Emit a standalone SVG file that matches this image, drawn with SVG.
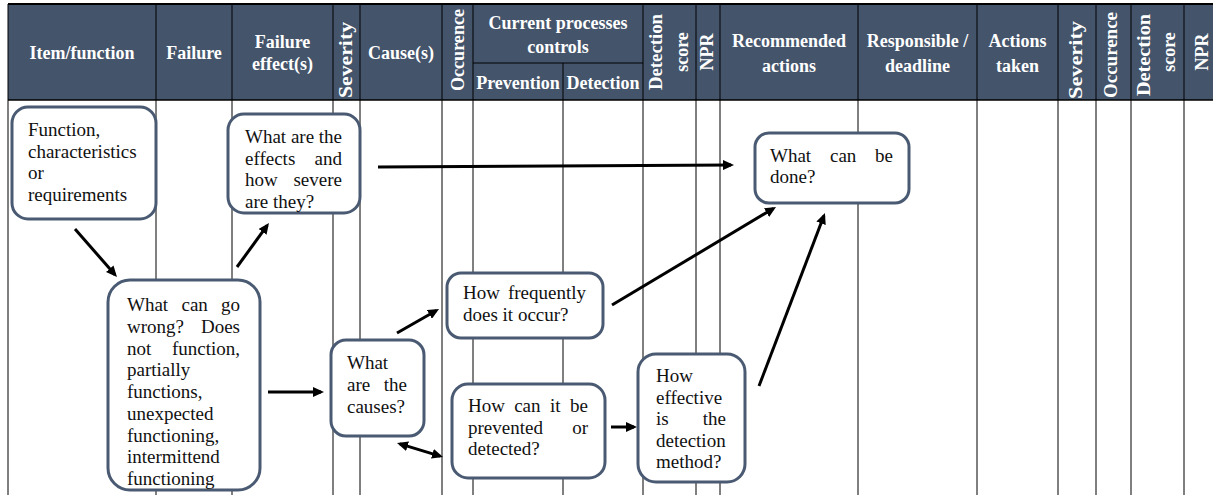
<svg xmlns="http://www.w3.org/2000/svg" width="1213" height="495" viewBox="0 0 1213 495">
  <style>
    .hd{fill:#44546A}
    .grid line{stroke:#000;stroke-width:1}
    .h{font-family:"Liberation Serif","Times New Roman",serif;font-weight:bold;font-size:18px;fill:#fff;text-anchor:middle}
    .t{font-family:"Liberation Serif","Times New Roman",serif;font-size:19px;fill:#111}
    .r{text-anchor:end}
    .box{fill:#fff;stroke:#4A5A72;stroke-width:3}
    .conn line{stroke:#000;stroke-width:3;fill:none}
    .one{marker-end:url(#ah)}
    .two{marker-start:url(#ah);marker-end:url(#ah)}
  </style>
  <defs>
    <marker id="ah" viewBox="0 0 11 10" markerWidth="11" markerHeight="10" refX="8" refY="5" markerUnits="userSpaceOnUse" orient="auto-start-reverse">
      <path d="M0,0 L11,5 L0,10 z" fill="#000"/>
    </marker>
  </defs>

  <rect width="1213" height="495" fill="#fff"/>

  <!-- header band -->
  <rect class="hd" x="8" y="4" width="1205" height="96"/>

  <!-- table grid -->
  <g class="grid">
    <line x1="8" y1="4" x2="1213" y2="4" style="stroke-width:2"/>
    <line x1="8" y1="100" x2="1213" y2="100" style="stroke-width:1.5"/>
    <line x1="473" y1="63" x2="643" y2="63"/>
    <line x1="8" y1="4" x2="8" y2="495"/>
    <line x1="156" y1="4" x2="156" y2="495"/>
    <line x1="232" y1="4" x2="232" y2="495"/>
    <line x1="333" y1="4" x2="333" y2="495"/>
    <line x1="360" y1="4" x2="360" y2="495"/>
    <line x1="442" y1="4" x2="442" y2="495"/>
    <line x1="473" y1="4" x2="473" y2="495"/>
    <line x1="563" y1="63" x2="563" y2="495"/>
    <line x1="643" y1="4" x2="643" y2="495"/>
    <line x1="696" y1="4" x2="696" y2="495"/>
    <line x1="720" y1="4" x2="720" y2="495"/>
    <line x1="858" y1="4" x2="858" y2="495"/>
    <line x1="977" y1="4" x2="977" y2="495"/>
    <line x1="1058" y1="4" x2="1058" y2="495"/>
    <line x1="1096" y1="4" x2="1096" y2="495"/>
    <line x1="1131" y1="4" x2="1131" y2="495"/>
    <line x1="1184" y1="4" x2="1184" y2="495"/>
  </g>

  <!-- header labels -->
  <g id="header">
    <text class="h" x="82" y="59">Item/function</text>
    <text class="h" x="194" y="59">Failure</text>
    <text class="h" x="282.5" y="48">Failure</text>
    <text class="h" x="282.5" y="70">effect(s)</text>
    <text class="h" transform="translate(352,60) rotate(-90)" textLength="76" lengthAdjust="spacingAndGlyphs">Severity</text>
    <text class="h" x="401" y="59">Cause(s)</text>
    <text class="h" transform="translate(464,50) rotate(-90)" textLength="82" lengthAdjust="spacingAndGlyphs">Occurence</text>
    <text class="h" x="558" y="29">Current processes</text>
    <text class="h" x="558" y="53">controls</text>
    <text class="h" x="518" y="89">Prevention</text>
    <text class="h" x="603" y="89">Detection</text>
    <text class="h" transform="translate(662,52) rotate(-90)" textLength="76" lengthAdjust="spacingAndGlyphs">Detection</text>
    <text class="h" transform="translate(688,52) rotate(-90)">score</text>
    <text class="h" transform="translate(713,52) rotate(-90)">NPR</text>
    <text class="h" x="789" y="47">Recommended</text>
    <text class="h" x="789" y="72">actions</text>
    <text class="h" x="917.5" y="47">Responsible /</text>
    <text class="h" x="917.5" y="72">deadline</text>
    <text class="h" x="1017.5" y="47">Actions</text>
    <text class="h" x="1017.5" y="72">taken</text>
    <text class="h" transform="translate(1082,60) rotate(-90)" textLength="78" lengthAdjust="spacingAndGlyphs">Severity</text>
    <text class="h" transform="translate(1117,55) rotate(-90)" textLength="86" lengthAdjust="spacingAndGlyphs">Occurence</text>
    <text class="h" transform="translate(1150,55) rotate(-90)" textLength="82" lengthAdjust="spacingAndGlyphs">Detection</text>
    <text class="h" transform="translate(1175,52) rotate(-90)">score</text>
    <text class="h" transform="translate(1208,52) rotate(-90)">NPR</text>
  </g>

  <!-- connectors -->
  <g id="connectors" class="conn">
    <line class="one" x1="75" y1="229" x2="115" y2="274.7"/>
    <line class="one" x1="237" y1="267" x2="267.2" y2="225.4"/>
    <line class="one" x1="378" y1="167" x2="731" y2="165"/>
    <line class="one" x1="612" y1="305" x2="773.4" y2="208.5"/>
    <line class="one" x1="759" y1="386" x2="823.9" y2="215.8"/>
    <line class="one" x1="397" y1="333" x2="436.4" y2="310.5"/>
    <line class="two" x1="399.9" y1="443.9" x2="440.1" y2="456.1"/>
    <line class="one" x1="268" y1="392" x2="321" y2="392"/>
    <line class="one" x1="611" y1="427" x2="634" y2="427"/>
  </g>

  <!-- nodes -->
  <g id="n-function">
    <rect class="box" x="12" y="107" width="144" height="112" rx="16"/>
    <text class="t" x="28" y="136">Function,</text>
    <text class="t" x="28" y="157.5">characteristics</text>
    <text class="t" x="28" y="179">or</text>
    <text class="t" x="28" y="200.5">requirements</text>
  </g>

  <g id="n-effects">
    <rect class="box" x="228" y="114" width="132" height="99" rx="16"/>
    <text class="t" x="245" y="143">What are the</text>
    <text class="t" x="245" y="164.5">effects</text>
    <text class="t r" x="342" y="164.5">and</text>
    <text class="t" x="245" y="186">how</text>
    <text class="t r" x="342" y="186">severe</text>
    <text class="t" x="245" y="207.5">are they?</text>
  </g>

  <g id="n-failure">
    <rect class="box" x="108" y="280" width="152" height="210" rx="22"/>
    <text class="t" x="127" y="311">What</text>
    <text class="t" x="181.5" y="311">can</text>
    <text class="t r" x="240" y="311">go</text>
    <text class="t" x="127" y="332.75">wrong?</text>
    <text class="t r" x="240" y="332.75">Does</text>
    <text class="t" x="127" y="354.5">not</text>
    <text class="t r" x="240" y="354.5">function,</text>
    <text class="t" x="127" y="376.25">partially</text>
    <text class="t" x="127" y="398">functions,</text>
    <text class="t" x="127" y="419.75">unexpected</text>
    <text class="t" x="127" y="441.5">functioning,</text>
    <text class="t" x="127" y="463.25">intermittend</text>
    <text class="t" x="127" y="485">functioning</text>
  </g>

  <g id="n-causes">
    <rect class="box" x="331" y="340" width="93" height="96" rx="15"/>
    <text class="t" x="347" y="369">What</text>
    <text class="t" x="347" y="391">are</text>
    <text class="t r" x="407" y="391">the</text>
    <text class="t" x="347" y="413">causes?</text>
  </g>

  <g id="n-occur">
    <rect class="box" x="447" y="273" width="156" height="65" rx="14"/>
    <text class="t" x="463" y="299">How</text>
    <text class="t r" x="586" y="299">frequently</text>
    <text class="t" x="463" y="320.5">does it occur?</text>
  </g>

  <g id="n-prevent">
    <rect class="box" x="452" y="384" width="153" height="94" rx="16"/>
    <text class="t" x="468" y="412">How</text>
    <text class="t" x="514.2" y="412">can</text>
    <text class="t" x="550" y="412">it</text>
    <text class="t r" x="588" y="412">be</text>
    <text class="t" x="468" y="433.5">prevented</text>
    <text class="t r" x="588" y="433.5">or</text>
    <text class="t" x="468" y="455">detected?</text>
  </g>

  <g id="n-detect">
    <rect class="box" x="638" y="354" width="107" height="128" rx="18"/>
    <text class="t" x="656" y="382">How</text>
    <text class="t" x="656" y="403.5">effective</text>
    <text class="t" x="656" y="425">is</text>
    <text class="t r" x="726" y="425">the</text>
    <text class="t" x="656" y="446.5">detection</text>
    <text class="t" x="656" y="468">method?</text>
  </g>

  <g id="n-done">
    <rect class="box" x="755" y="133" width="154" height="70" rx="14"/>
    <text class="t" x="770" y="161.5">What</text>
    <text class="t" x="830" y="161.5">can</text>
    <text class="t r" x="893" y="161.5">be</text>
    <text class="t" x="770" y="183">done?</text>
  </g>
</svg>
